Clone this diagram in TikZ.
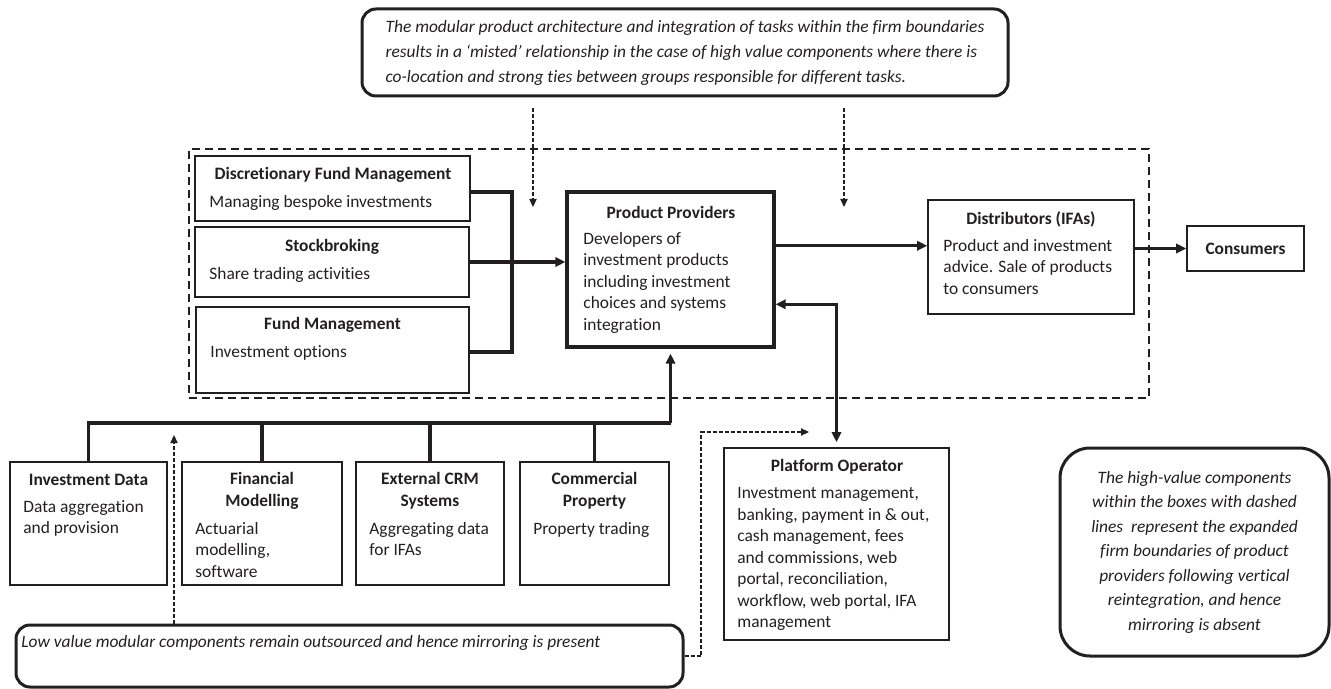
\documentclass[tikz,border=0pt]{standalone}
\usepackage{fontspec}
\setmainfont[Ligatures={TeX,NoCommon}]{Carlito}
\usetikzlibrary{arrows.meta, positioning, calc}
\definecolor{inkdark}{RGB}{35,31,32}

\begin{document}
\begin{tikzpicture}[x=0.5pt, y=-0.5pt,
    every node/.style={text=inkdark, font=\fontsize{8.7}{10.75}\selectfont},
    box/.style={draw=inkdark, line width=0.8pt, inner sep=0pt},
    keybox/.style={box, line width=1.6pt},
    ttl/.style={inner sep=0pt, align=center, font=\fontsize{8.7}{10.75}\selectfont\bfseries},
    line/.style={inner sep=0pt, anchor=west},
    para/.style={inner sep=0pt, align=left, anchor=north west},
    remark/.style={draw=inkdark, line width=1.5pt, rounded corners=7pt, inner sep=0pt,
                   font=\fontsize{8.7}{12.5}\selectfont\itshape},
    link/.style={draw=inkdark, line width=1.7pt},
    tip/.style={-{Triangle[length=5pt,width=4.6pt]}},
    tips/.style={{Triangle[length=5pt,width=4.6pt]}-{Triangle[length=5pt,width=4.6pt]}},
    hint/.style={draw=inkdark, line width=0.6pt, dash pattern=on 2pt off 1pt,
                 -{Triangle[length=4pt,width=3.6pt]}}
  ]
    \useasboundingbox (0,0) rectangle (1331,689);

    % expanded firm boundary
    \node[draw=inkdark, line width=0.6pt, dash pattern=on 4pt off 2.5pt, inner sep=0pt,
          minimum width=480pt, minimum height=124.5pt] (firm) at (669,273.5) {};

    % notes
    \node[remark, minimum width=323pt, minimum height=43.5pt, align=left] (topnote) at (685,52.5)
      {The modular product architecture and integration of tasks within the firm boundaries\\
       results in a `misted' relationship in the case of high value components where there is\\
       co-location and strong ties between groups responsible for different tasks.};
    \node[remark, rounded corners=15pt, minimum width=134.5pt, minimum height=104pt, align=center,
          font=\fontsize{8.7}{12.25}\selectfont\itshape] (highnote) at (1194.5,552)
      {The high-value components\\within the boxes with dashed\\lines\ \ represent the expanded\\
       firm boundaries of product\\providers following vertical\\reintegration, and hence\\
       mirroring is absent};
    \node[remark, minimum width=333.5pt, minimum height=31pt] (lownote) at (349.5,656) {};
    \node[line, font=\fontsize{8.7}{12.5}\selectfont\itshape] (lowtext) at (21,643)
      {Low value modular components remain outsourced and hence mirroring is present};

    % high value components
    \node[box, minimum width=137.5pt, minimum height=32.5pt] (dfm) at (332.5,188.5) {};
    \node[ttl] (dfmT) at (333,175) {Discretionary Fund Management};
    \node[line] (dfmB) at (209,203) {Managing bespoke investments};

    \node[box, minimum width=137pt, minimum height=35pt] (sb) at (332,262) {};
    \node[ttl] (sbT) at (332,247) {Stockbroking};
    \node[line] (sbB) at (209,275) {Share trading activities};

    \node[box, minimum width=136.5pt, minimum height=43pt] (fm) at (332.5,350) {};
    \node[ttl] (fmT) at (332.5,325) {Fund Management};
    \node[line] (fmB) at (210,353) {Investment options};

    \node[keybox, minimum width=103.5pt, minimum height=77.5pt] (pp) at (670.5,269.5) {};
    \node[ttl] (ppT) at (671,212) {Product Providers};
    \node[para] (ppB) at (583,232) {Developers of\\investment products\\including investment\\choices and systems\\integration};

    \node[box, minimum width=103pt, minimum height=57pt] (dist) at (1031,257) {};
    \node[ttl] (distT) at (1031,219) {Distributors (IFAs)};
    \node[para] (distB) at (943,239) {Product and investment\\advice. Sale of products\\to consumers};

    \node[box, minimum width=58.5pt, minimum height=22.5pt, font=\fontsize{8.7}{10.75}\selectfont\bfseries] (cons) at (1245.5,248.5) {Consumers};

    % low value components
    \node[box, minimum width=112.5pt, minimum height=96pt] (plat) at (836.5,544) {};
    \node[ttl] (platT) at (837,467) {Platform Operator};
    \node[para] (platB) at (737,487) {Investment management,\\banking, payment in \& out,\\cash management, fees\\and commissions, web\\portal, reconciliation,\\workflow, web portal, IFA\\management};

    \node[box, minimum width=78.5pt, minimum height=61.5pt] (idata) at (88.5,523.5) {};
    \node[ttl] (idataT) at (88.5,480) {Investment Data};
    \node[para] (idataB) at (23,500) {Data aggregation\\and provision};

    \node[box, minimum width=80pt, minimum height=61.5pt] (fmod) at (262,523.5) {};
    \node[ttl, anchor=north] (fmodT) at (262,472) {Financial\\Modelling};
    \node[para] (fmodB) at (195,522) {Actuarial\\modelling,\\software};

    \node[box, minimum width=74pt, minimum height=61.5pt] (crm) at (430,523.5) {};
    \node[ttl, anchor=north] (crmT) at (430,472) {External CRM\\Systems};
    \node[para] (crmB) at (369,522) {Aggregating data\\for IFAs};

    \node[box, minimum width=74.5pt, minimum height=61.5pt] (cprop) at (594.5,523.5) {};
    \node[ttl, anchor=north] (cpropT) at (594.5,472) {Commercial\\Property};
    \node[line] (cpropB) at (533,530) {Property trading};

    % connectors
    \coordinate (brkin) at ($(dfm.east)+(0,3.5)$);
    \coordinate (brkout) at ($(fm.east)+(0,2)$);
    \coordinate (brk) at (512,262);
    \draw[link] (brkin) -| (brk) |- (brkout);
    \draw[link, tip] (sb.east) -- (sb.east -| pp.west);
    \coordinate (ppout) at ($(pp.north east)!.35!(pp.south east)$);
    \draw[link, tip] (ppout) -- (ppout -| dist.west);
    \draw[link, tip] (dist.east |- cons.west) -- (cons.west);
    \coordinate (ppin) at ($(pp.north east)!.72!(pp.south east)$);
    \draw[link, tips, shorten >=2.5pt] (ppin) -| (plat.north);

    \coordinate (bus) at (670.5,423);
    \draw[link] (idata.north) |- (bus);
    \draw[link, tip, shorten >=2.5pt] (bus) -- (pp.south);
    \foreach \b in {fmod, crm, cprop}
      \draw[link] (\b.north) -- (\b.north |- bus);

    % note pointers
    \coordinate (h1) at (533,207);
    \coordinate (h2) at (844,207);
    \draw[hint, shorten <=5.5pt] (h1 |- topnote.south) -- (h1);
    \draw[hint, shorten <=5.5pt] (h2 |- topnote.south) -- (h2);
    \coordinate (h3) at (174,435);
    \draw[hint] (h3 |- lownote.north) -- (h3);
    \coordinate (bend) at (701,432);
    \coordinate (h4) at (809,432);
    \draw[hint] (lownote.east) -| (bend) -- (h4);
\end{tikzpicture}
\end{document}
